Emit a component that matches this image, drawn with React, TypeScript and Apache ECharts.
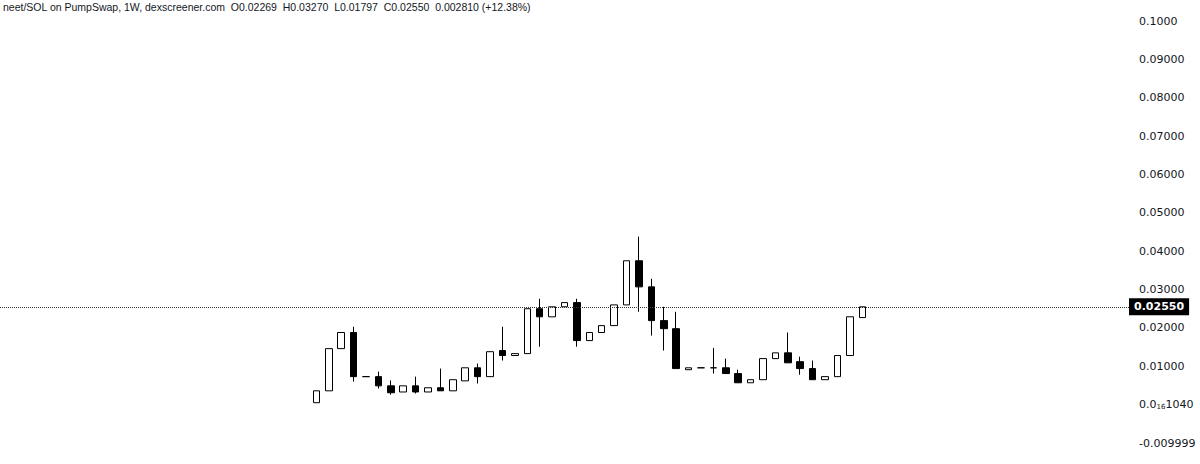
import React, { useEffect, useRef } from "react";
import * as echarts from "echarts";

const TITLE = "neet/SOL on PumpSwap, 1W, dexscreener.com  O0.02269  H0.03270  L0.01797  C0.02550  0.002810 (+12.38%)";

const weeks = [
  "W1","W2","W3","W4","W5","W6","W7","W8","W9","W10",
  "W11","W12","W13","W14","W15","W16","W17","W18","W19","W20",
  "W21","W22","W23","W24","W25","W26","W27","W28","W29","W30",
  "W31","W32","W33","W34","W35","W36","W37","W38","W39","W40",
  "W41","W42","W43","W44","W45",
];
const opens = [
  0.0005, 0.0036, 0.0146, 0.0188, 0.0073, 0.0073, 0.0049, 0.0033, 0.0049, 0.0033,
  0.0044, 0.0036, 0.0062, 0.0096, 0.0073, 0.0141, 0.0128, 0.0133, 0.0250, 0.0229,
  0.0255, 0.0266, 0.0167, 0.0188, 0.0206, 0.0260, 0.0375, 0.0307, 0.0219, 0.0198,
  0.0091, 0.0096, 0.0096, 0.0096, 0.0081, 0.0057, 0.0065, 0.0120, 0.0135, 0.0112,
  0.0094, 0.0065, 0.0073, 0.0128, 0.02269,
];
const closes = [
  0.0036, 0.0146, 0.0188, 0.0073, 0.0073, 0.0049, 0.0031, 0.0049, 0.0033, 0.0044,
  0.0036, 0.0065, 0.0096, 0.0073, 0.0138, 0.0128, 0.0133, 0.0250, 0.0229, 0.0255,
  0.0266, 0.0167, 0.0188, 0.0206, 0.0260, 0.0375, 0.0307, 0.0219, 0.0198, 0.0094,
  0.0096, 0.0096, 0.0096, 0.0081, 0.0057, 0.0065, 0.0120, 0.0135, 0.0109, 0.0094,
  0.0065, 0.0073, 0.0128, 0.0229, 0.0255,
];
const lows = [
  0.0005, 0.0036, 0.0146, 0.0060, 0.0073, 0.0042, 0.0026, 0.0033, 0.0029, 0.0033,
  0.0036, 0.0036, 0.0062, 0.0055, 0.0073, 0.0115, 0.0128, 0.0133, 0.0151, 0.0229,
  0.0255, 0.0151, 0.0167, 0.0188, 0.0206, 0.0260, 0.0242, 0.0180, 0.0141, 0.0094,
  0.0091, 0.0096, 0.0081, 0.0081, 0.0057, 0.0057, 0.0065, 0.0120, 0.0109, 0.0078,
  0.0065, 0.0065, 0.0073, 0.0128, 0.02269,
];
const highs = [
  0.0036, 0.0146, 0.0188, 0.0203, 0.0073, 0.0086, 0.0063, 0.0049, 0.0073, 0.0044,
  0.0094, 0.0065, 0.0096, 0.0107, 0.0138, 0.0203, 0.0133, 0.0250, 0.0276, 0.0255,
  0.0266, 0.0276, 0.0188, 0.0206, 0.0260, 0.0375, 0.0438, 0.0328, 0.0255, 0.0242,
  0.0096, 0.0096, 0.0148, 0.0120, 0.0091, 0.0065, 0.0120, 0.0135, 0.0188, 0.0125,
  0.0115, 0.0073, 0.0128, 0.0229, 0.0255,
];
const lastPrice = 0.0255;
const lastPriceLabel = "0.02550";
const tickLabels = [
  "-0.009999", "0.0{s|16}1040", "0.01000", "0.02000", "0.03000", "0.04000",
  "0.05000", "0.06000", "0.07000", "0.08000", "0.09000", "0.1000",
];

const LEAD = 25;
const TRAIL = 21;

export default function App() {
  const ref = useRef<HTMLDivElement>(null);
  useEffect(() => {
    document.body.style.margin = "0";
    const chart = echarts.init(ref.current!, null, { renderer: "svg" });
    const categories = [
      ...Array(LEAD).fill(""),
      ...weeks,
      ...Array(TRAIL).fill(""),
    ];
    const data = weeks.map((_, i) => [LEAD + i, opens[i], closes[i], lows[i], highs[i]]);
    const font = "'DejaVu Sans', sans-serif";
    chart.setOption({
      animation: false,
      backgroundColor: "#ffffff",
      title: {
        text: TITLE,
        left: 3,
        top: 1,
        padding: 0,
        textStyle: { fontSize: 10.5, fontWeight: "normal", color: "#131722", fontFamily: "'Liberation Sans', sans-serif" },
      },
      grid: { left: 0, right: 71, top: 21, bottom: 21 },
      xAxis: {
        type: "category",
        data: categories,
        boundaryGap: true,
        show: false,
      },
      yAxis: {
        type: "value",
        position: "right",
        min: -0.01,
        max: 0.1,
        interval: 0.01,
        axisLine: { show: false },
        axisTick: { show: false },
        splitLine: { show: false },
        axisLabel: {
          margin: 10,
          fontSize: 11,
          color: "#131722",
          fontFamily: font,
          formatter: (v: number) => tickLabels[Math.round(v / 0.01) + 1] ?? "",
          rich: {
            s: { fontSize: 7, fontFamily: font, color: "#131722", verticalAlign: "bottom", padding: [3, 0, 0, 0] },
          },
        },
      },
      series: [
        {
          type: "candlestick",
          data,
          encode: { x: 0, y: [1, 2, 3, 4] },
          barWidth: 7,
          itemStyle: {
            color: "#ffffff",
            color0: "#000000",
            borderColor: "#000000",
            borderColor0: "#000000",
            borderWidth: 1,
          },
          markLine: {
            silent: true,
            precision: 6,
            symbol: ["none", "none"],
            lineStyle: { type: "dotted", color: "#333333", width: 1 },
            label: {
              position: "end",
              distance: 0,
              formatter: lastPriceLabel,
              backgroundColor: "#000000",
              color: "#ffffff",
              fontWeight: "bold",
              fontSize: 11,
              fontFamily: font,
              padding: [3, 5, 3, 5],
            },
            data: [{ yAxis: lastPrice }],
          },
        },
      ],
    });
    return () => chart.dispose();
  }, []);
  return <div ref={ref} style={{ width: 1200, height: 464 }} />;
}
